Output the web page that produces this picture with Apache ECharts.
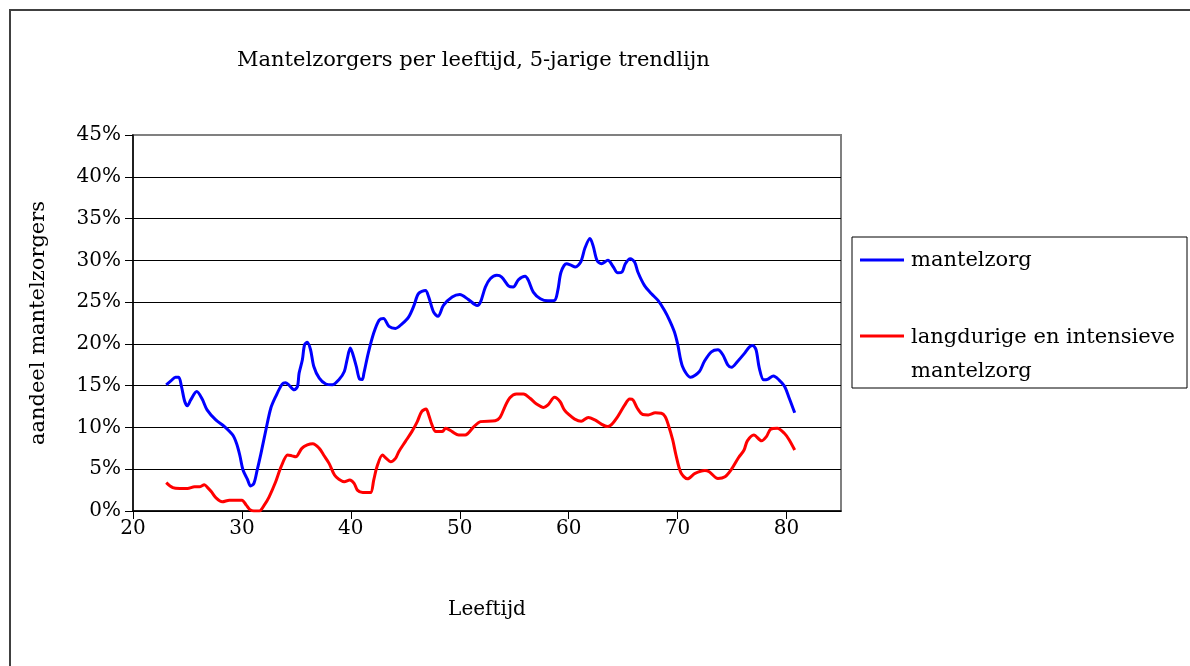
<!DOCTYPE html>
<html>
<head>
<meta charset="utf-8">
<script src="https://cdn.jsdelivr.net/npm/echarts@6/dist/echarts.min.js"></script>
<style>html,body{margin:0;padding:0;background:#fff}#c{width:1190px;height:666px}</style>
</head>
<body>
<div id="c"></div>
<script>
var titleText = 'Mantelzorgers per leeftijd, 5-jarige trendlijn';
var xName = 'Leeftijd';
var yName = 'aandeel mantelzorgers';
var seriesNames = ['mantelzorg', 'langdurige en intensieve\nmantelzorg'];
var xTicks = [20, 30, 40, 50, 60, 70, 80];
var yTicks = [0, 5, 10, 15, 20, 25, 30, 35, 40, 45];

var blueAges = [23.05,23.5,23.9,24.2,24.45,24.75,25.0,25.3,25.85,26.35,26.8,27.6,28.4,29.15,29.5,29.8,30.1,30.5,30.8,31.1,31.4,31.75,32.2,32.65,33.1,33.7,34.0,34.3,34.8,35.1,35.25,35.55,35.75,36.0,36.3,36.6,37.1,37.7,38.3,38.9,39.4,39.65,39.95,40.15,40.5,40.8,41.05,41.2,41.6,42.1,42.6,43.0,43.5,44.1,44.7,45.3,45.8,46.2,46.85,47.15,47.6,48.0,48.5,49.3,50.0,50.8,51.6,51.9,52.35,52.8,53.4,53.85,54.5,54.9,55.4,56.0,56.3,56.75,57.4,58.1,58.7,59.0,59.3,59.8,60.25,60.6,61.1,61.5,61.95,62.25,62.6,63.0,63.6,64.1,64.5,64.9,65.2,65.65,66.05,66.35,66.95,67.6,68.2,68.8,69.25,69.7,70.0,70.45,71.2,72.0,72.45,73.1,73.7,74.15,74.6,74.95,75.5,76.1,76.6,76.9,77.2,77.5,77.9,78.25,78.8,79.3,79.8,80.25,80.75];
var blueVals = [15.1,15.6,16.0,16.0,14.9,13.1,12.6,13.3,14.3,13.4,12.1,10.9,10.1,9.1,8.1,6.7,4.9,3.8,3.0,3.3,4.9,6.9,9.7,12.3,13.7,15.2,15.35,15.1,14.5,14.9,16.5,18.1,19.9,20.2,19.3,17.3,15.9,15.2,15.1,15.7,16.7,18.1,19.5,18.9,17.3,15.8,15.75,16.5,18.9,21.3,22.85,23.05,22.1,21.85,22.4,23.2,24.6,26.0,26.4,25.6,23.8,23.3,24.6,25.6,25.9,25.3,24.6,25.0,26.8,27.8,28.2,28.0,26.9,26.8,27.7,28.1,27.6,26.2,25.4,25.15,25.2,26.4,28.6,29.6,29.4,29.2,29.8,31.5,32.6,31.7,30.0,29.6,30.0,29.2,28.5,28.6,29.6,30.2,29.8,28.6,27.0,26.0,25.2,24.0,22.85,21.45,20.0,17.3,16.0,16.7,17.9,19.05,19.3,18.7,17.5,17.2,17.9,18.8,19.65,19.8,19.3,17.1,15.7,15.75,16.15,15.7,14.95,13.5,11.75];

var redAges = [23.05,23.65,24.3,25.0,25.65,26.1,26.55,26.85,27.2,27.6,28.2,28.85,29.5,30.0,30.4,30.7,31.1,31.6,32.05,32.5,33.1,33.6,34.2,34.6,34.95,35.5,36.0,36.5,37.1,37.5,38.0,38.5,38.9,39.4,39.9,40.3,40.6,41.1,41.8,42.1,42.4,42.9,43.25,43.65,44.1,44.4,45.0,45.6,46.1,46.5,46.9,47.15,47.45,47.8,48.4,48.7,49.3,49.9,50.5,51.3,51.9,53.25,53.7,54.15,54.6,55.2,55.85,56.45,57.05,57.7,58.1,58.7,59.2,59.6,60.0,60.55,61.15,61.8,62.4,63.0,63.55,63.9,64.5,65.15,65.6,65.9,66.3,66.8,67.3,67.95,68.5,68.85,69.15,69.55,69.85,70.3,70.9,71.6,72.5,72.9,73.7,74.35,74.95,75.6,76.1,76.4,77.0,77.7,78.15,78.55,79.15,79.8,80.25,80.75];
var redVals = [3.4,2.8,2.7,2.7,2.9,2.9,3.15,2.8,2.3,1.6,1.1,1.3,1.3,1.3,0.7,0.2,0,0,0.7,1.7,3.5,5.3,6.7,6.6,6.5,7.5,7.9,8.05,7.5,6.7,5.7,4.3,3.8,3.5,3.7,3.3,2.5,2.2,2.2,3.7,5.3,6.7,6.3,5.9,6.3,7.1,8.3,9.5,10.7,11.9,12.2,11.5,10.3,9.5,9.5,9.9,9.5,9.1,9.1,10.1,10.7,10.8,11.2,12.5,13.55,14.0,14.0,13.5,12.8,12.4,12.7,13.6,13.1,12.1,11.55,11.0,10.75,11.2,10.9,10.4,10.1,10.3,11.3,12.7,13.4,13.3,12.3,11.55,11.5,11.75,11.7,11.3,10.3,8.5,6.7,4.6,3.85,4.5,4.85,4.7,3.9,4.1,5.0,6.4,7.3,8.4,9.1,8.4,8.9,9.8,9.9,9.3,8.5,7.3];

function pairs(xs, ys) { return xs.map(function (x, i) { return [x, ys[i] / 100]; }); }

var FONT = 'DejaVu Serif';
var chart = echarts.init(document.getElementById('c'), null, { renderer: 'canvas' });
var colors = ['#0000FF', '#FF0000'];

chart.setOption({
  animation: false,
  backgroundColor: '#fff',
  title: {
    text: titleText, left: 232, top: 45,
    textStyle: { fontFamily: FONT, fontSize: 21, fontWeight: 'normal', color: '#000' }
  },
  grid: { left: 133, top: 135, width: 708, height: 376, show: true, borderColor: '#808080', borderWidth: 2, backgroundColor: '#fff' },
  xAxis: {
    type: 'value', min: 20, max: 85, interval: 10,
    name: xName, nameLocation: 'middle', nameGap: 89,
    nameTextStyle: { fontFamily: FONT, fontSize: 20, color: '#000' },
    axisLine: { show: true, lineStyle: { color: '#000', width: 1.5 } },
    axisTick: { show: true, length: 8, customValues: xTicks, lineStyle: { color: '#000' } },
    axisLabel: { customValues: xTicks, margin: 8, fontFamily: FONT, fontSize: 20, color: '#000' },
    splitLine: { show: false }
  },
  yAxis: {
    type: 'value', min: 0, max: 0.45, interval: 0.05,
    name: yName, nameLocation: 'middle', nameGap: 84,
    nameTextStyle: { fontFamily: FONT, fontSize: 21, color: '#000' },
    axisLine: { show: true, lineStyle: { color: '#000', width: 1.5 } },
    axisTick: { show: true, length: 8, lineStyle: { color: '#000' } },
    axisLabel: {
      margin: 12, fontFamily: FONT, fontSize: 20, color: '#000',
      formatter: function (v) { return Math.round(v * 100) + '%'; }
    },
    splitLine: { show: true, showMaxLine: false, lineStyle: { color: '#000', width: 1 } }
  },
  series: [
    { name: seriesNames[0], type: 'line', data: pairs(blueAges, blueVals), showSymbol: false, smooth: 0.3,
      lineStyle: { color: colors[0], width: 3 }, itemStyle: { color: colors[0] } },
    { name: seriesNames[1], type: 'line', data: pairs(redAges, redVals), showSymbol: false, smooth: 0.3,
      lineStyle: { color: colors[1], width: 3 }, itemStyle: { color: colors[1] } }
  ],
  graphic: [
    { type: 'rect', silent: true, shape: { x: 10, y: 10, width: 1200, height: 700 }, style: { fill: 'none', stroke: '#404040', lineWidth: 2 }, z: 100 },
    { type: 'rect', shape: { x: 852, y: 237, width: 335, height: 151 }, style: { fill: '#fff', stroke: '#000', lineWidth: 1 } },
    { type: 'line', shape: { x1: 860, y1: 260, x2: 904, y2: 260 }, style: { stroke: colors[0], lineWidth: 3 } },
    { type: 'text', x: 911, y: 261, style: { text: seriesNames[0], fontFamily: FONT, fontSize: 21, fill: '#000', verticalAlign: 'middle' } },
    { type: 'line', shape: { x1: 860, y1: 336, x2: 904, y2: 336 }, style: { stroke: colors[1], lineWidth: 3 } },
    { type: 'text', x: 911, y: 321, style: { text: seriesNames[1], fontFamily: FONT, fontSize: 21, lineHeight: 34, fill: '#000', verticalAlign: 'top' } }
  ]
});
</script>
</body>
</html>
